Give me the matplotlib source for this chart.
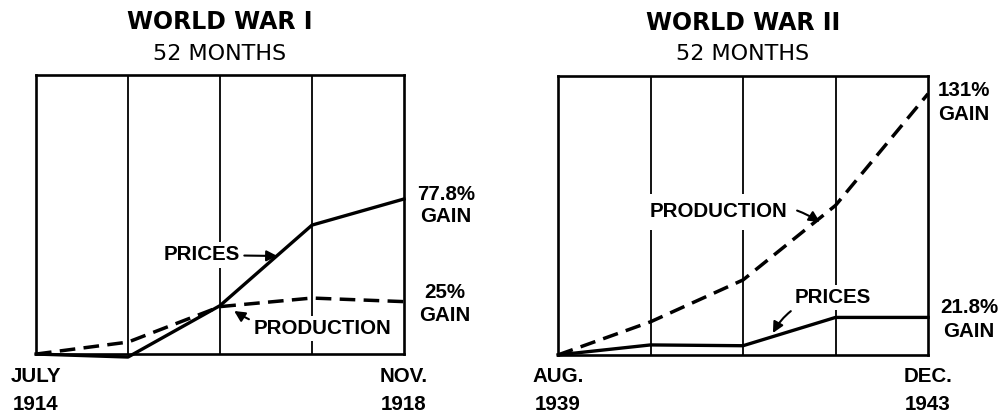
import matplotlib
matplotlib.use("Agg")
import matplotlib.pyplot as plt

# months since start of each war (52 months, quarter lines)
months = [0, 13, 26, 39, 52]

ww1_prices = [0, -1.5, 24.3, 64.7, 77.8]
ww1_production = [0, 6.0, 23.8, 28.1, 26.3]
ww2_production = [0, 16.6, 37.6, 75.0, 131]
ww2_prices = [0, 5.0, 4.6, 18.8, 18.8]

ww1_ticks = ["JULY\n1914", "NOV.\n1918"]
ww2_ticks = ["AUG.\n1939", "DEC.\n1943"]

narrow = ["Liberation Sans Narrow", "Liberation Sans", "DejaVu Sans"]
lab = dict(family=narrow, fontweight="bold", fontsize=14.8)

fig = plt.figure(figsize=(10.06, 4.19), dpi=100)
ax1 = fig.add_axes([0.0358, 0.155, 0.3658, 0.666])
ax2 = fig.add_axes([0.5547, 0.153, 0.3678, 0.666])

dash = (0, (4.5, 2.4))


def setup(ax, ticks, title):
    ax.set_xlim(0, 52)
    ax.set_ylim(0, 140)
    for m in months[1:-1]:
        ax.axvline(m, color="black", lw=1.3, zorder=1)
    for s in ax.spines.values():
        s.set_linewidth(1.9)
    ax.set_yticks([])
    ax.set_xticks([0, 52], ticks)
    ax.tick_params(axis="x", length=0, pad=9)
    for t in ax.get_xticklabels():
        t.set_fontfamily(narrow)
        t.set_fontweight("bold")
        t.set_fontsize(14.8)
        t.set_linespacing(1.6)
        t.set_multialignment("center")
    ax.text(0.5, 1.077, "52 MONTHS", transform=ax.transAxes, ha="center",
            va="center", fontsize=16, fontfamily="DejaVu Sans")
    ax.text(0.5, 1.19, title, transform=ax.transAxes, ha="center",
            va="center", fontsize=17, fontweight="bold", fontfamily="DejaVu Sans")


setup(ax1, ww1_ticks, "WORLD WAR I")
setup(ax2, ww2_ticks, "WORLD WAR II")

ax1.plot(months, ww1_prices, color="black", lw=2.4, clip_on=False, zorder=4)
ax1.plot(months, ww1_production, color="black", lw=2.5, ls=dash, clip_on=False, zorder=4)
ax2.plot(months, ww2_production, color="black", lw=2.5, ls=dash, clip_on=False, zorder=4)
ax2.plot(months, ww2_prices, color="black", lw=2.4, clip_on=False, zorder=4)

wb = dict(boxstyle="square,pad=0.15", fc="white", ec="none")
arrow = dict(arrowstyle="-|>", color="black", lw=1.5, mutation_scale=16,
             shrinkA=1, shrinkB=0)

# WW I labels
ax1.annotate("PRICES", xy=(34.1, 49.2), xytext=(28.8, 49.7), ha="right", va="center",
             bbox=wb, arrowprops=arrow, zorder=3, **lab)
ax1.annotate("PRODUCTION", xy=(28.0, 21.6), xytext=(30.7, 13.0), ha="left", va="center",
             bbox=wb, arrowprops=dict(arrow, connectionstyle="arc3,rad=-0.2"), zorder=3, **lab)
ax1.text(53.8, 74.5, "77.8%\nGAIN", ha="left", va="center", multialignment="center",
         linespacing=1.25, clip_on=False, **lab)
ax1.text(54.1, 25.0, "25%\nGAIN", ha="left", va="center", multialignment="center",
         linespacing=1.25, clip_on=False, **lab)

# WW II labels
ax2.annotate("PRODUCTION", xy=(36.8, 66.7), xytext=(12.9, 71.7), ha="left", va="center",
             bbox=dict(boxstyle="square,pad=0.4", fc="white", ec="none"),
             arrowprops=dict(arrow, connectionstyle="arc3,rad=-0.25"), zorder=3, **lab)
ax2.annotate("PRICES", xy=(30.2, 11.0), xytext=(33.3, 28.6), ha="left", va="center",
             bbox=wb, arrowprops=dict(arrow, connectionstyle="arc3,rad=0.3"), zorder=3, **lab)
ax2.text(53.4, 126.7, "131%\nGAIN", ha="left", va="center", multialignment="center",
         linespacing=1.3, clip_on=False, **lab)
ax2.text(53.7, 17.8, "21.8%\nGAIN", ha="left", va="center", multialignment="center",
         linespacing=1.3, clip_on=False, **lab)

fig.savefig("out.png", dpi=100)
